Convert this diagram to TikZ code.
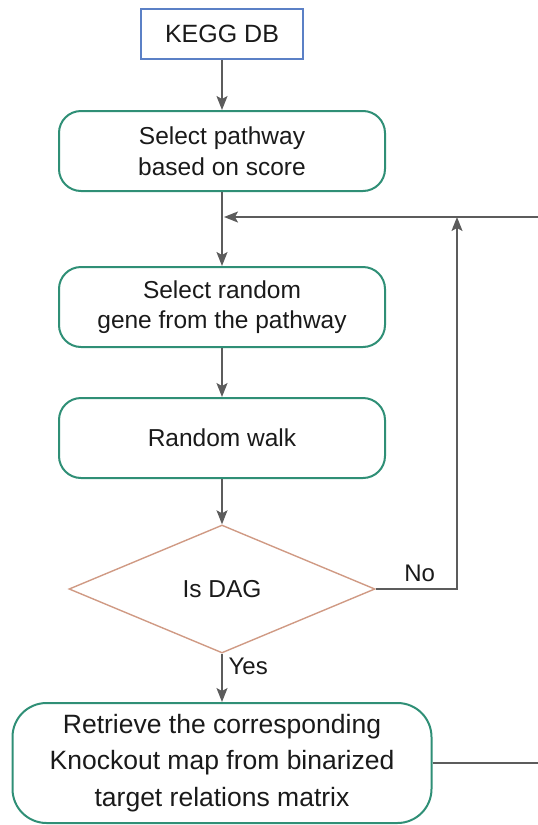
\documentclass[tikz,border=0pt]{standalone}
\usepackage{fontspec}
\setmainfont{Liberation Sans}
\usetikzlibrary{shapes.geometric,arrows.meta}
\definecolor{boxgreen}{HTML}{2F8F76}
\definecolor{dbblue}{HTML}{5B80C6}
\definecolor{decisionedge}{HTML}{D09A84}
\definecolor{wire}{HTML}{5C5C5C}
\definecolor{ink}{HTML}{1A1A1A}
\begin{document}
\begin{tikzpicture}[x=1pt,y=-1pt,
  every node/.style={text=ink, align=center, inner sep=0pt},
  source/.style={draw=dbblue, line width=1.8pt, minimum width=162pt,
    minimum height=50pt, font=\fontsize{25}{30}\selectfont},
  process/.style={draw=boxgreen, line width=2pt, rounded corners=22pt,
    minimum width=326pt, minimum height=80pt,
    font=\fontsize{24.5}{30.5}\selectfont},
  bigprocess/.style={draw=boxgreen, line width=2pt, rounded corners=34pt,
    minimum width=419pt, minimum height=120pt,
    font=\fontsize{26.5}{36.5}\selectfont},
  decision/.style={diamond, draw=decisionedge, line width=1.4pt,
    minimum width=306pt, minimum height=128pt,
    font=\fontsize{24.5}{30}\selectfont},
  flow/.style={draw=wire, line width=1.3pt,
    -{Stealth[length=14pt,width=11pt,inset=3pt,fill=wire]}},
  wireline/.style={draw=wire, line width=1.3pt},
  edgelabel/.style={font=\fontsize{24}{28}\selectfont}
]
\useasboundingbox (0,0) rectangle (538,825);

% process chain
\node[source]     (kegg) at (222,34)  {KEGG DB};
\node[process]    (sp)   at (222,151) {Select pathway\\based on score};
\node[process]    (sr)   at (222,307) {Select random\\gene from the pathway};
\node[process]    (rw)   at (222,438) {Random walk};
\node[decision]   (dag)  at (222,589) {\raisebox{-3pt}{Is DAG}};
\node[bigprocess] (ret)  at (222,763) {Retrieve the corresponding\\Knockout map from binarized\\target relations matrix};

% loop points
\coordinate (merge)    at (224,217);
\coordinate (noup)     at (457,217);
\coordinate (topright) at (538,217);
\coordinate (botright) at (538,764);

% main connectors
\draw[flow] (kegg) -- (sp);
\draw[flow] (sp) -- (sr);
\draw[flow] (sr) -- (rw);
\draw[flow] (rw) -- (dag);
\draw[flow] (dag) -- node[edgelabel, pos=0.27, anchor=west, xshift=6pt] {Yes} (ret);

% feedback connectors
\draw[flow] (dag.east) -| node[edgelabel, pos=0.27, above=7pt] {No} (noup);
\draw[flow] (topright) -- (merge);
\draw[wireline] (ret.east) -- (ret.east -| botright);
\end{tikzpicture}
\end{document}
